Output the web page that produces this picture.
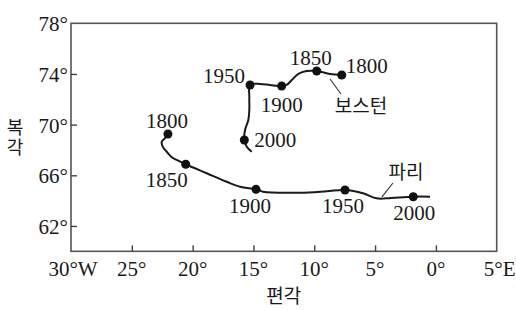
<!DOCTYPE html>
<html>
<head>
<meta charset="utf-8">
<script src="https://cdn.jsdelivr.net/npm/d3@7"></script>
<style>
  body { margin: 0; background: #fff; }
  svg { display: block; }
</style>
</head>
<body>
<script>
const width = 516,
  height = 310;

const serif = "Liberation Serif";
const kfont = "Noto Sans CJK KR";

// declination (deg, west negative) / inclination (deg)
const years = [1800, 1850, 1900, 1950, 2000];
const bostonDecl = [-7.74, -9.8, -12.68, -15.28, -15.75];
const bostonIncl = [73.92, 74.23, 73.05, 73.13, 68.79];
const parisDecl = [-22.03, -20.57, -14.79, -7.47, -1.86];
const parisIncl = [69.26, 66.87, 64.89, 64.84, 64.31];

// traced path between the dated points
const bostonPathDecl = [-7.74, -8.7, -9.8, -10.63, -11.31, -11.85, -12.27, -12.68, -13.64, -14.46, -15.28, -15.34, -15.34, -15.42, -15.69, -15.75, -15.55, -15.14];
const bostonPathIncl = [73.92, 74.0, 74.23, 74.23, 74.0, 73.52, 73.13, 73.05, 73.13, 73.21, 73.13, 72.2, 71.16, 70.37, 69.58, 68.79, 68.26, 67.86];
const parisPathDecl = [-22.03, -22.27, -22.54, -22.46, -22.13, -21.72, -21.31, -20.57, -18.84, -17.2, -16.1, -14.79, -14.21, -11.17, -8.98, -7.47, -5.99, -4.87, -4.04, -1.86, -0.48];
const parisPathIncl = [69.26, 68.94, 68.65, 68.26, 67.86, 67.42, 67.21, 66.87, 66.16, 65.49, 65.1, 64.89, 64.7, 64.63, 64.74, 64.84, 64.58, 64.18, 64.18, 64.31, 64.31];

const xTicks = [-30, -25, -20, -15, -10, -5, 0, 5];
const xTickLabels = ["30°W", "25°", "20°", "15°", "10°", "5°", "0°", "5°E"];
const yTicks = [62, 66, 70, 74, 78];
const yTickLabels = ["62°", "66°", "70°", "74°", "78°"];

// year label offsets in px from each dot (text centre, baseline)
const bostonLabelOffsets = [[25, -2], [-6, -6], [0, 26], [-26, -2], [31, 7]];
const parisLabelOffsets = [[-1, -6], [-19, 23], [-6, 24], [-2, 23], [1, 23]];

const margin = { top: 23.3, right: 19.3, bottom: 58.7, left: 71 };

const svg = d3
  .select("body")
  .append("svg")
  .attr("width", width)
  .attr("height", height);

const x = d3
  .scaleLinear()
  .domain([-30, 5])
  .range([margin.left, width - margin.right]);

const y = d3
  .scaleLinear()
  .domain([60, 78])
  .range([height - margin.bottom, margin.top]);

// frame
svg
  .append("rect")
  .attr("x", x(-30))
  .attr("y", y(78))
  .attr("width", x(5) - x(-30))
  .attr("height", y(60) - y(78))
  .attr("fill", "none")
  .attr("stroke", "#555")
  .attr("stroke-width", 1.6);

// inward ticks
const xAxis = svg
  .append("g")
  .attr("transform", `translate(0,${y(60)})`)
  .call(
    d3
      .axisTop(x)
      .tickValues(xTicks.slice(1, -1))
      .tickSize(6)
      .tickFormat("")
  );
xAxis.select(".domain").remove();
xAxis.selectAll("line").attr("stroke", "#444").attr("stroke-width", 1.4);

const yAxis = svg
  .append("g")
  .attr("transform", `translate(${x(-30)},0)`)
  .call(
    d3
      .axisRight(y)
      .tickValues(yTicks.slice(0, -1))
      .tickSize(6)
      .tickFormat("")
  );
yAxis.select(".domain").remove();
yAxis.selectAll("line").attr("stroke", "#444").attr("stroke-width", 1.4);

// tick labels
svg
  .selectAll("text.xlab")
  .data(xTicks)
  .enter()
  .append("text")
  .attr("class", "xlab")
  .attr("font-family", serif)
  .attr("font-size", 21)
  .attr("fill", "#1a1a1a")
  .attr("x", (d, i) => x(d) + (i === 0 ? 2 : i === xTicks.length - 1 ? 3 : 0))
  .attr("y", y(60) + 25)
  .attr("text-anchor", "middle")
  .text((d, i) => xTickLabels[i]);

svg
  .selectAll("text.ylab")
  .data(yTicks)
  .enter()
  .append("text")
  .attr("class", "ylab")
  .attr("font-family", serif)
  .attr("font-size", 21)
  .attr("fill", "#1a1a1a")
  .attr("x", x(-30) - 3)
  .attr("y", d => y(d) + 8)
  .attr("text-anchor", "end")
  .text((d, i) => yTickLabels[i]);

// axis titles
svg
  .append("text")
  .attr("font-family", kfont)
  .attr("font-size", 19)
  .attr("fill", "#1a1a1a")
  .attr("x", (x(-30) + x(5)) / 2)
  .attr("y", 303)
  .attr("text-anchor", "middle")
  .text("편각");

svg
  .append("text")
  .attr("font-family", kfont)
  .attr("font-size", 18)
  .attr("fill", "#1a1a1a")
  .attr("x", 15)
  .attr("y", 138)
  .attr("text-anchor", "middle")
  .style("writing-mode", "vertical-rl")
  .style("letter-spacing", "2px")
  .text("복각");

const line = d3
  .line()
  .x(d => x(d[0]))
  .y(d => y(d[1]))
  .curve(d3.curveCatmullRom.alpha(0.5));

function drawSeries(pathDecl, pathIncl, decl, incl, offsets) {
  svg
    .append("path")
    .attr("d", line(pathDecl.map((d, i) => [d, pathIncl[i]])))
    .attr("fill", "none")
    .attr("stroke", "#1a1a1a")
    .attr("stroke-width", 2);

  svg
    .append("g")
    .selectAll("circle")
    .data(years)
    .enter()
    .append("circle")
    .attr("cx", (d, i) => x(decl[i]))
    .attr("cy", (d, i) => y(incl[i]))
    .attr("r", 4.5)
    .attr("fill", "#111");

  svg
    .append("g")
    .selectAll("text")
    .data(years)
    .enter()
    .append("text")
    .attr("font-family", serif)
    .attr("font-size", 21)
    .attr("fill", "#1a1a1a")
    .attr("x", (d, i) => x(decl[i]) + offsets[i][0])
    .attr("y", (d, i) => y(incl[i]) + offsets[i][1])
    .attr("text-anchor", "middle")
    .text(d => d);
}

drawSeries(bostonPathDecl, bostonPathIncl, bostonDecl, bostonIncl, bostonLabelOffsets);
drawSeries(parisPathDecl, parisPathIncl, parisDecl, parisIncl, parisLabelOffsets);

// series names with leader lines
const seriesNames = ["보스턴", "파리"];
const nameAt = [[-6.16, 71.47], [-2.46, 66.26]];
const leaders = [
  [[-8.7, 73.6], [-7.8, 72.42]],
  [[-3.53, 65.39], [-4.43, 64.29]]
];

leaders.forEach(l => {
  svg
    .append("line")
    .attr("x1", x(l[0][0]))
    .attr("y1", y(l[0][1]))
    .attr("x2", x(l[1][0]))
    .attr("y2", y(l[1][1]))
    .attr("stroke", "#333")
    .attr("stroke-width", 1.1);
});

svg
  .selectAll("text.name")
  .data(seriesNames)
  .enter()
  .append("text")
  .attr("class", "name")
  .attr("font-family", kfont)
  .attr("font-size", 19)
  .attr("fill", "#1a1a1a")
  .attr("x", (d, i) => x(nameAt[i][0]))
  .attr("y", (d, i) => y(nameAt[i][1]))
  .attr("dy", "0.35em")
  .attr("text-anchor", "middle")
  .text(d => d);
</script>
</body>
</html>
